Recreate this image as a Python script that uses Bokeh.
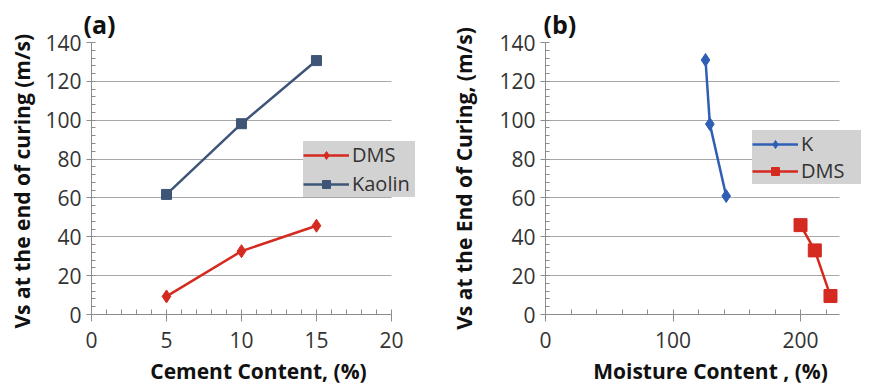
from bokeh.plotting import figure
from bokeh.layouts import row
from bokeh.models import Range1d, FixedTicker, Legend, LegendItem
from bokeh.embed import file_html
from bokeh.resources import INLINE

# Panel (a)
cement = [5, 10, 15]
dms_a = [9.3, 32.6, 45.7]
kaolin_a = [61.8, 98.2, 130.7]
# Panel (b)
k_moist = [125.5, 128.9, 141.7]
k_vs = [131, 98, 61]
dms_moist = [200, 211.2, 223.5]
dms_vs = [46, 33, 9.5]

y_ticks = [0, 20, 40, 60, 80, 100, 120, 140]
xa_ticks = [0, 5, 10, 15, 20]
xb_ticks = [0, 100, 200]

FONT = "Open Sans"
RED = "#d42a20"
SLATE = "#3e5578"
BLUE = "#2f5fb5"


def style(p, xticks, xminor, yminor, xmax):
    p.xgrid.visible = False
    p.ygrid.grid_line_color = "#a8a8a8"
    p.ygrid.grid_line_width = 1.2
    p.ygrid.cross_bounds = (0, xmax)
    p.outline_line_color = None
    p.background_fill_color = "white"
    p.border_fill_color = "white"
    for ax in (p.xaxis[0], p.yaxis[0]):
        ax.axis_line_color = "#8c8c8c"
        ax.major_tick_line_color = "#8c8c8c"
        ax.minor_tick_line_color = "#8c8c8c"
        ax.major_label_text_font = FONT
        ax.major_label_text_font_size = "21px"
        ax.major_label_text_color = "#333333"
        ax.axis_label_text_font = FONT
        ax.axis_label_text_font_size = "21px"
        ax.axis_label_text_font_style = "bold"
        ax.axis_label_text_color = "#111111"
    p.xaxis[0].bounds = (0, xmax)
    p.xaxis[0].ticker = FixedTicker(ticks=xticks, minor_ticks=xminor)
    p.yaxis[0].ticker = FixedTicker(ticks=y_ticks, minor_ticks=yminor)
    p.xaxis[0].major_tick_out = 7
    p.xaxis[0].major_tick_in = 0
    p.xaxis[0].minor_tick_in = 5
    p.xaxis[0].minor_tick_out = 0
    p.yaxis[0].major_tick_out = 5
    p.yaxis[0].major_tick_in = 0
    p.yaxis[0].minor_tick_in = 4
    p.yaxis[0].minor_tick_out = 0
    p.xaxis[0].major_label_standoff = 10
    p.xaxis[0].axis_label_standoff = 6
    p.yaxis[0].major_label_standoff = 5
    p.title.text_font = FONT
    p.title.text_font_size = "25px"
    p.title.text_font_style = "bold"
    p.title.text_color = "#111111"
    p.title.align = "left"
    p.title.vertical_align = "top"
    p.title.text_line_height = 0.8
    p.title.standoff = 0


y_minor = [v for v in range(0, 141, 4)]

# ---- Panel (a)
pa = figure(width=437, height=390, output_backend="svg", toolbar_location=None,
            x_range=Range1d(0, 22.27), y_range=Range1d(0, 140), title="(a)",
            min_border_left=91, min_border_right=12, min_border_top=42, min_border_bottom=76)
style(pa, xa_ticks, list(range(0, 21)), y_minor, 20)
pa.title.offset = -8
pa.yaxis[0].axis_label_standoff = 6
pa.xaxis.axis_label = "Cement Content, (%)"
pa.yaxis.axis_label = "Vs  at the end of curing (m/s)"

l1 = pa.line(cement, dms_a, line_color=RED, line_width=2.5)
s1 = pa.scatter(cement, dms_a, marker="diamond", size=13, fill_color=RED, line_color=RED)
l2 = pa.line(cement, kaolin_a, line_color=SLATE, line_width=2.5)
s2 = pa.scatter(cement, kaolin_a, marker="square", size=10, fill_color=SLATE, line_color=SLATE)
leg_a = Legend(items=[LegendItem(label="DMS", renderers=[l1, s1]),
                      LegendItem(label="Kaolin", renderers=[l2, s2])],
               location=(212, 117), background_fill_color="#d2d2d2", background_fill_alpha=1,
               border_line_color=None, label_text_font=FONT, label_text_font_size="20px",
               label_text_color="#333333", glyph_width=46, spacing=2, padding=10, margin=0,
               label_standoff=3, label_width=63)
pa.add_layout(leg_a, "center")

# ---- Panel (b)
pb = figure(width=438, height=390, output_backend="svg", toolbar_location=None,
            x_range=Range1d(0, 258.8), y_range=Range1d(0, 140), title="(b)",
            min_border_left=108, min_border_right=0, min_border_top=42, min_border_bottom=76)
style(pb, xb_ticks, list(range(0, 231, 20)), y_minor, 230.6)
pb.title.offset = -2
pb.yaxis[0].axis_label_standoff = 18
pb.xaxis.axis_label = "Moisture Content , (%)"
pb.yaxis.axis_label = "Vs at the End of Curing, (m/s)"

l3 = pb.line(k_moist, k_vs, line_color=BLUE, line_width=2.5)
s3 = pb.scatter(k_moist, k_vs, marker="diamond", size=13, fill_color=BLUE, line_color=BLUE)
l4 = pb.line(dms_moist, dms_vs, line_color=RED, line_width=2.5)
s4 = pb.scatter(dms_moist, dms_vs, marker="square", size=13, fill_color=RED, line_color=RED)
leg_b = Legend(items=[LegendItem(label="K", renderers=[l3, s3]),
                      LegendItem(label="DMS", renderers=[l4, s4])],
               location=(207, 130), background_fill_color="#d2d2d2", background_fill_alpha=1,
               border_line_color=None, label_text_font=FONT, label_text_font_size="20px",
               label_text_color="#333333", glyph_width=46, spacing=0, padding=12, margin=0,
               label_standoff=3, label_width=60)
pb.add_layout(leg_b, "center")

layout = row(pa, pb)
open("out.html", "w").write(file_html(layout, INLINE))
